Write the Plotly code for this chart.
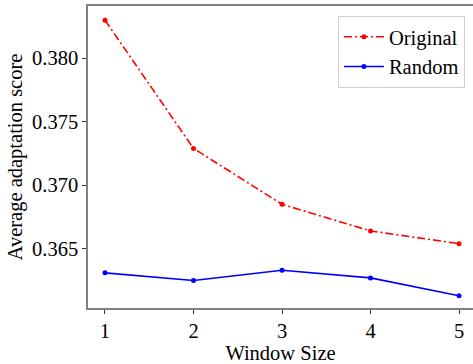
import plotly.graph_objects as go

window_size = [1, 2, 3, 4, 5]
original = [0.3830, 0.3729, 0.3685, 0.3664, 0.3654]
random_vals = [0.3631, 0.3625, 0.3633, 0.3627, 0.3613]
y_ticks = [0.365, 0.370, 0.375, 0.380]
y_tick_text = ["0.365", "0.370", "0.375", "0.380"]

FONT = "Liberation Serif"
TF = dict(family=FONT, size=20.5, color="black")

fig = go.Figure()
fig.add_trace(go.Scatter(
    x=window_size, y=original, name="Original", mode="lines+markers",
    line=dict(color="red", width=1.6, dash="8px,3px,2px,3px"),
    marker=dict(color="red", size=5),
))
fig.add_trace(go.Scatter(
    x=window_size, y=random_vals, name="Random", mode="lines+markers",
    line=dict(color="blue", width=1.6),
    marker=dict(color="blue", size=5),
))

fig.update_layout(
    width=473, height=364,
    margin=dict(l=88, r=0, t=6, b=56),
    paper_bgcolor="white", plot_bgcolor="white",
    font=TF,
    legend=dict(
        x=0.979, y=0.967, xanchor="right", yanchor="top",
        bgcolor="white", bordercolor="#d0d0d0", borderwidth=1,
        font=TF, tracegroupgap=0, itemwidth=40,
    ),
    xaxis=dict(
        range=[0.808, 5.158], tickvals=window_size, tickfont=TF,
        ticks="outside", ticklen=4, tickwidth=1, tickcolor="#333",
        showline=True, linecolor="#808080", linewidth=1.5, mirror=True,
        showgrid=False, zeroline=False,
        title=dict(text="Window Size", font=TF, standoff=0),
    ),
    yaxis=dict(
        range=[0.36033, 0.38412], tickvals=y_ticks, ticktext=y_tick_text, tickfont=TF,
        ticks="outside", ticklen=4, tickwidth=1, tickcolor="#333",
        showline=True, linecolor="#808080", linewidth=1.5, mirror=False,
        showgrid=False, zeroline=False,
        title=dict(text="Average adaptation score", font=TF, standoff=4),
    ),
)

fig.write_html("out.html")
